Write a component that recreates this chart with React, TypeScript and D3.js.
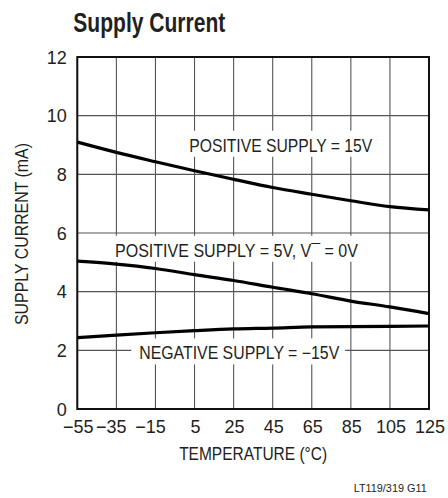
import React from "react";
import * as d3 from "d3";

const temps = [-55, -35, -15, 5, 25, 45, 65, 85, 105, 125];
const pos15 = [9.1, 8.75, 8.43, 8.12, 7.83, 7.55, 7.32, 7.1, 6.9, 6.79];
const pos5 = [5.04, 4.94, 4.79, 4.58, 4.38, 4.15, 3.93, 3.68, 3.48, 3.25];
const neg15 = [2.43, 2.52, 2.6, 2.67, 2.73, 2.76, 2.8, 2.81, 2.82, 2.83];

const xTicks = [-55, -35, -15, 5, 25, 45, 65, 85, 105, 125];
const yTicks = [0, 2, 4, 6, 8, 10, 12];

const title = "Supply Current";
const xTitle = "TEMPERATURE (°C)";
const yTitle = "SUPPLY CURRENT (mA)";
const footer = "LT119/319 G11";

const labels = [
  { s: "POSITIVE SUPPLY = 15V", t: 2.3, v: 8.77, len: 183 },
  { s: "POSITIVE SUPPLY = 5V, V\u00AF = 0V", t: -35.7, v: 5.19, len: 243 },
  { s: "NEGATIVE SUPPLY = \u221215V", t: -23.3, v: 1.69, len: 200 },
];

const FONT = "'Liberation Sans Narrow', 'Liberation Sans', Arial, sans-serif";

export default function App() {
  const left = 77.3, right = 429, top = 57, bottom = 409;
  const x = d3.scaleLinear().domain([-55, 125]).range([left, right]);
  const y = d3.scaleLinear().domain([0, 12]).range([bottom, top]);
  const line = d3
    .line<number>()
    .x((_, i) => x(temps[i]))
    .y((d) => y(d))
    .curve(d3.curveMonotoneX);
  const series = [pos15, pos5, neg15];

  return (
    <svg
      width={448}
      height={498}
      style={{ position: "absolute", left: 0, top: 0, background: "#fff" }}
      fontFamily={FONT}
    >
      <rect x={0} y={0} width={448} height={498} fill="#fff" />
      <text x={73.3} y={32.3} fontSize={27} fontWeight="bold" fill="#231f20" textLength={152} lengthAdjust="spacingAndGlyphs">
        {title}
      </text>
      {xTicks.map((t) => (
        <line key={"gx" + t} x1={x(t)} x2={x(t)} y1={top} y2={bottom} stroke="#555" strokeWidth={1.1} />
      ))}
      {yTicks.map((v) => (
        <line key={"gy" + v} x1={left} x2={right} y1={y(v)} y2={y(v)} stroke="#555" strokeWidth={1.1} />
      ))}
      {labels.map((l, i) => (
        <rect key={"bg" + i} x={x(l.t) - 8} y={y(l.v) - 21} width={l.len + 14} height={26} fill="#fff" />
      ))}
      <rect x={left} y={top} width={right - left} height={bottom - top} fill="none" stroke="#111" strokeWidth={2} />
      {series.map((s, i) => (
        <path key={"s" + i} d={line(s) || ""} fill="none" stroke="#000" strokeWidth={3.2} />
      ))}
      {labels.map((l, i) => (
        <text
          key={"lb" + i}
          x={x(l.t)}
          y={y(l.v)}
          fontSize={17.5}
          fill="#231f20"
          textLength={l.len}
          lengthAdjust="spacingAndGlyphs"
        >
          {l.s}
        </text>
      ))}
      {yTicks.map((v) => (
        <text key={"yt" + v} x={66.7} y={y(v) + 6.5} fontSize={18} textAnchor="end" fill="#231f20">
          {v}
        </text>
      ))}
      {xTicks.map((t) => (
        <text
          key={"xt" + t}
          x={x(t)}
          dx={t < 0 && t !== xTicks[0] ? -5 : 1}
          y={433.3}
          fontSize={18}
          textAnchor="middle"
          fill="#231f20"
        >
          {t < 0 ? "\u2212" + Math.abs(t) : String(t)}
        </text>
      ))}
      <text x={(left + right) / 2} y={460} fontSize={18} textAnchor="middle" fill="#231f20" textLength={148} lengthAdjust="spacingAndGlyphs">
        {xTitle}
      </text>
      <text
        transform={`translate(28.3, ${(top + bottom) / 2 + 1}) rotate(-90)`}
        fontSize={18}
        textAnchor="middle"
        fill="#231f20"
        textLength={182}
        lengthAdjust="spacingAndGlyphs"
      >
        {yTitle}
      </text>
      <text x={426.7} y={492.3} fontSize={10.5} textAnchor="end" fill="#231f20" textLength={73} lengthAdjust="spacingAndGlyphs">
        {footer}
      </text>
    </svg>
  );
}
